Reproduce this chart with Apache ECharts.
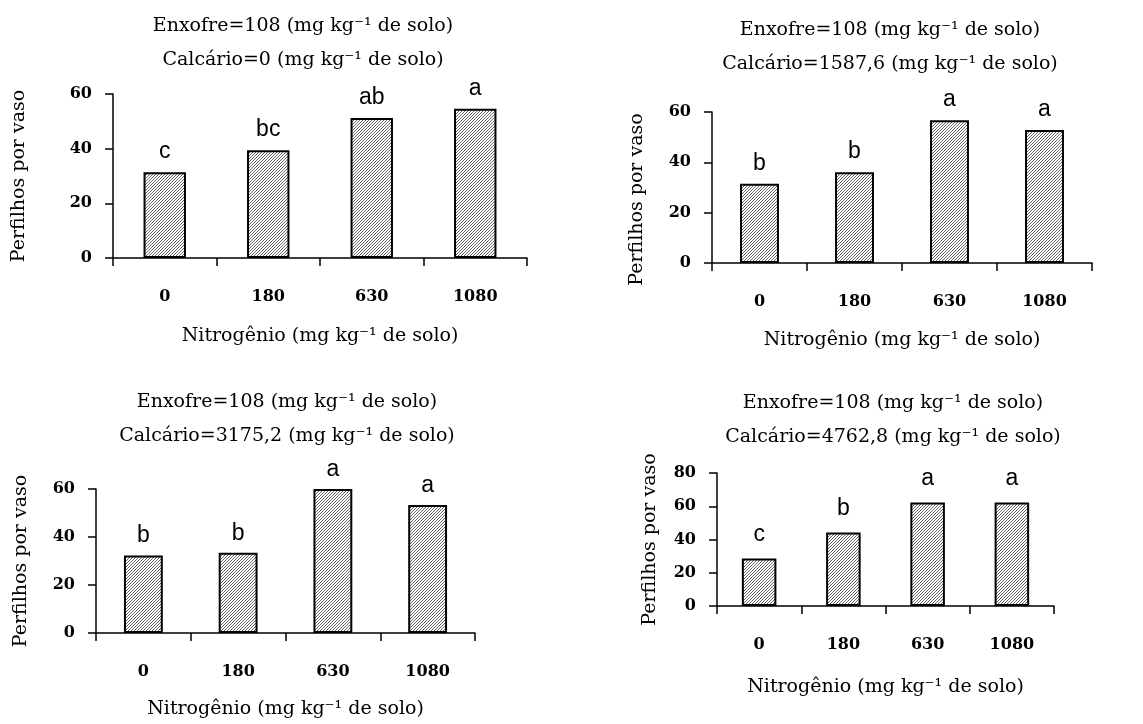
<!DOCTYPE html>
<html>
<head>
    <meta charset="utf-8">
    <title>Perfilhos por vaso</title>
    <script src="https://cdn.jsdelivr.net/npm/echarts@6/dist/echarts.min.js"></script>
    <style>
        html, body { margin: 0; padding: 0; background: #fff; }
    </style>
</head>
<body>
    <div id="main" style="width: 1143px;height:724px;"></div>
    <script type="text/javascript">
        // dados
        var nitrogenio = ['0', '180', '630', '1080'];
        var calcario = ['0', '1587,6', '3175,2', '4762,8'];
        var perfilhosCal0 = [31.4, 39.4, 51.2, 54.6];
        var perfilhosCal1587 = [31.5, 36.1, 56.7, 52.8];
        var perfilhosCal3175 = [32.3, 33.4, 60.0, 53.3];
        var perfilhosCal4762 = [28.6, 44.2, 62.2, 62.2];
        var letrasCal0 = ['c', 'bc', 'ab', 'a'];
        var letrasCal1587 = ['b', 'b', 'a', 'a'];
        var letrasCal3175 = ['b', 'b', 'a', 'a'];
        var letrasCal4762 = ['c', 'b', 'a', 'a'];
        var yMaximo = [60, 60, 60, 80];
        var yIntervalo = 20;

        var valores = [perfilhosCal0, perfilhosCal1587, perfilhosCal3175, perfilhosCal4762];
        var letras = [letrasCal0, letrasCal1587, letrasCal3175, letrasCal4762];

        // posição de cada painel (px)
        var paineis = [
            { left: 113, top: 94, width: 414, height: 164, tx: 298, ty: 4, yGap: 84, xGap: 69, dist: 9, yPad: [0, 0, 0, 0] },
            { left: 712, top: 112, width: 380, height: 151, tx: 885, ty: 8, yGap: 65, xGap: 68, dist: 9, yPad: [0, 24, 0, 0] },
            { left: 96, top: 489, width: 379, height: 144, tx: 282, ty: 380, yGap: 65, xGap: 67, dist: 8, yPad: [0, 0, 0, 0] },
            { left: 717, top: 473, width: 337, height: 133, tx: 888, ty: 381, yGap: 57, xGap: 72, dist: 12, yPad: [0, 0, 0, 0] }
        ];

        var serif = 'DejaVu Serif';

        // textura hachurada das barras
        function hachura() {
            var c = document.createElement('canvas');
            c.width = 3; c.height = 3;
            var ctx = c.getContext('2d');
            ctx.fillStyle = '#ffffff';
            ctx.fillRect(0, 0, 3, 3);
            ctx.fillStyle = '#666666';
            for (var i = 0; i < 3; i++) ctx.fillRect(i, 2 - i, 1, 1);
            return c;
        }
        var padrao = hachura();

        var myChart = echarts.init(document.getElementById('main'));

        var option = {
            animation: false,
            title: [],
            grid: [],
            xAxis: [],
            yAxis: [],
            series: []
        };

        paineis.forEach(function (p, k) {
            option.title.push({
                text: 'Enxofre=108 (mg kg\u207B\u00B9 de solo)\nCalcário=' + calcario[k] + ' (mg kg\u207B\u00B9 de solo)',
                left: p.tx,
                top: p.ty,
                textAlign: 'center',
                textStyle: { fontFamily: serif, fontSize: 19, fontWeight: 'normal', color: '#000', lineHeight: 34 }
            });
            option.grid.push({ left: p.left, top: p.top, width: p.width, height: p.height });
            option.xAxis.push({
                type: 'category',
                gridIndex: k,
                data: nitrogenio,
                name: 'Nitrogênio (mg kg\u207B\u00B9 de solo)',
                nameLocation: 'middle',
                nameGap: p.xGap,
                nameTextStyle: { fontFamily: serif, fontSize: 19, color: '#000' },
                axisLine: { lineStyle: { color: '#000', width: 1.5 } },
                axisTick: { show: true, alignWithLabel: false, interval: 0, length: 8, lineStyle: { color: '#000', width: 1.5 } },
                axisLabel: { margin: 31, fontFamily: serif, fontSize: 16, fontWeight: 'bold', color: '#000' }
            });
            option.yAxis.push({
                type: 'value',
                gridIndex: k,
                min: 0,
                max: yMaximo[k],
                interval: yIntervalo,
                name: 'Perfilhos por vaso',
                nameLocation: 'middle',
                nameGap: p.yGap,
                nameTextStyle: { fontFamily: serif, fontSize: 19, color: '#000', padding: p.yPad },
                splitLine: { show: false },
                axisLine: { show: true, lineStyle: { color: '#000', width: 1.5 } },
                axisTick: { show: true, length: 8, lineStyle: { color: '#000', width: 1.5 } },
                axisLabel: { margin: 21, fontFamily: serif, fontSize: 16, fontWeight: 'bold', color: '#000' }
            });
            option.series.push({
                type: 'bar',
                xAxisIndex: k,
                yAxisIndex: k,
                data: valores[k],
                barWidth: '41%',
                itemStyle: {
                    color: { image: padrao, repeat: 'repeat' },
                    borderColor: '#000',
                    borderWidth: 2
                },
                label: {
                    show: true,
                    position: 'top',
                    distance: p.dist,
                    fontFamily: 'Liberation Sans',
                    fontSize: 23,
                    color: '#000',
                    formatter: function (d) { return letras[k][d.dataIndex]; }
                }
            });
        });

        myChart.setOption(option);
    </script>
</body>
</html>
